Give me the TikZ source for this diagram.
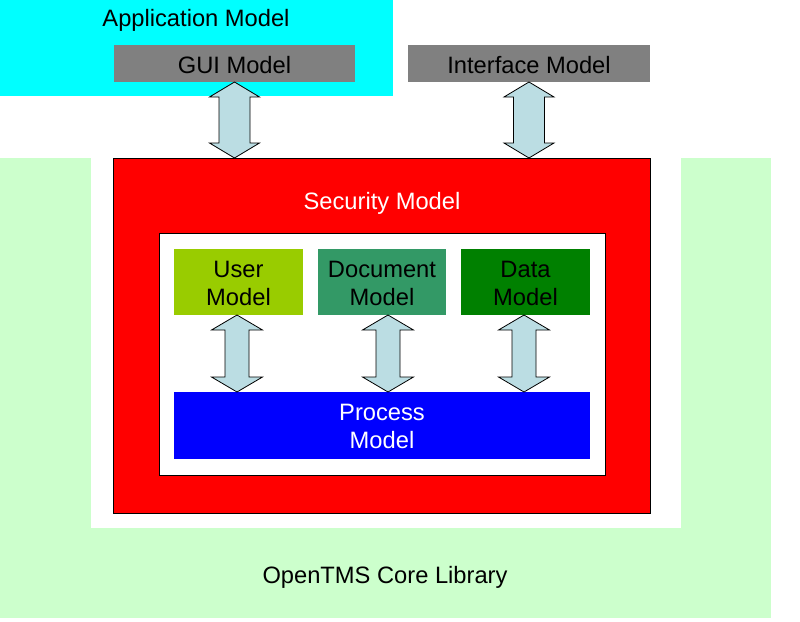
\documentclass[tikz,border=0pt]{standalone}
\usepackage{fontspec}
\setmainfont{Liberation Sans}
\usetikzlibrary{calc}
\definecolor{appcyan}{RGB}{0,255,255}
\definecolor{coregreen}{RGB}{204,255,204}
\definecolor{secred}{RGB}{255,0,0}
\definecolor{modgray}{RGB}{128,128,128}
\definecolor{usergreen}{RGB}{153,204,0}
\definecolor{docgreen}{RGB}{51,153,102}
\definecolor{datagreen}{RGB}{0,128,0}
\definecolor{procblue}{RGB}{0,0,255}
\definecolor{arrowblue}{RGB}{187,221,227}
\tikzset{
  area/.style={anchor=north west, inner sep=0pt, outer sep=0pt},
  framed/.style={area, draw=black, line width=0.8pt},
  lbl/.style={font=\fontsize{23.7}{28}\selectfont, align=center, text=black},
  modbox/.style={area, lbl},
  darrowstyle/.style={draw=black, fill=arrowblue, line width=0.8pt, line join=miter}
}
\newcommand\dblarrow[5]{%
  \draw[darrowstyle] let \p1=($(#1)+(#5,0)$), \p2=(#2) in
   (\x1,\y1) -- (\x1+#3pt,\y1-15pt) -- (\x1+#4pt,\y1-15pt) -- (\x1+#4pt,\y2+15pt)
   -- (\x1+#3pt,\y2+15pt) -- (\x1,\y2) -- (\x1-#3pt,\y2+15pt) -- (\x1-#4pt,\y2+15pt)
   -- (\x1-#4pt,\y1-15pt) -- (\x1-#3pt,\y1-15pt) -- cycle;}
\begin{document}
\begin{tikzpicture}[x=1pt,y=-1pt]
\useasboundingbox (0,0) rectangle (800,621);
\fill[white] (0,0) rectangle (800,621);
% application model
\node[area, fill=appcyan, minimum width=393, minimum height=96] (app) at (0,0) {};
\node[lbl] (applbl) at (196,20) {Application Model};
\node[modbox, fill=modgray, minimum width=241, minimum height=37] (gui) at (114,45) {};
\node[lbl] (guilbl) at ($(gui.center)+(0,2)$) {GUI Model};
\node[modbox, fill=modgray, minimum width=242, minimum height=37] (iface) at (408,45) {};
\node[lbl] (ifacelbl) at ($(iface.center)+(0,2)$) {Interface Model};
% core library
\node[area, fill=coregreen, minimum width=771, minimum height=460] (core) at (0,158) {};
\fill[white] (91,158) rectangle (681,528);
\node[lbl] (corelbl) at (385,577) {OpenTMS Core Library};
% security model
\node[framed, fill=secred, minimum width=537, minimum height=355] (sec) at (113,158) {};
\node[lbl, text=white] (seclbl) at (382,203) {Security Model};
\node[framed, fill=white, minimum width=446, minimum height=242] (inner) at (159,233) {};
% models
\node[area, fill=usergreen, minimum width=129, minimum height=66] (user) at (174,249) {};
\node[lbl] at ($(user.center)+(0,1)$) {User\\Model};
\node[area, fill=docgreen, minimum width=128, minimum height=66] (doc) at (318,249) {};
\node[lbl] at ($(doc.center)+(0,1)$) {Document\\Model};
\node[area, fill=datagreen, minimum width=129, minimum height=66] (data) at (461,249) {};
\node[lbl] at ($(data.center)+(0,1)$) {Data\\Model};
\node[area, fill=procblue, minimum width=416, minimum height=67] (proc) at (174,392) {};
\node[lbl, text=white] at ($(proc.center)+(0,1)$) {Process\\Model};
% arrows
\dblarrow{gui.south}{sec.north}{25}{15.5}{0}
\dblarrow{iface.south}{sec.north}{25}{15.5}{0}
\dblarrow{user.south}{proc.north}{25.5}{12}{-1.5}
\dblarrow{doc.south}{proc.north}{25.5}{12}{6}
\dblarrow{data.south}{proc.north}{25.5}{12}{-1.5}
\end{tikzpicture}
\end{document}
